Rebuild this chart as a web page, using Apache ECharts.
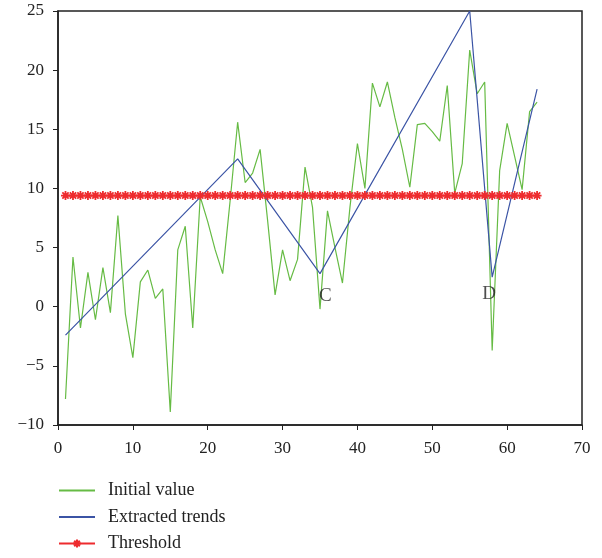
<!DOCTYPE html>
<html>
<head>
<meta charset="utf-8">
<script src="https://cdn.jsdelivr.net/npm/echarts@6/dist/echarts.min.js"></script>
<style>
  html, body { margin: 0; padding: 0; background: #fff; }
  #chart { width: 602px; height: 558px; }
</style>
</head>
<body>
<div id="chart"></div>
<script>
// green curve, one value per sample (x = 1..64)
const initialValue = [
  -7.8, 4.2, -1.8, 2.9, -1.1, 3.3, -0.5, 7.7, -0.6, -4.3,
  2.1, 3.1, 0.7, 1.5, -8.9, 4.8, 6.8, -1.8, 9.3, 7.2,
  4.8, 2.8, 9.0, 15.6, 10.5, 11.3, 13.3, 7.3, 1.0, 4.8,
  2.2, 4.0, 11.8, 8.4, -0.2, 8.1, 5.0, 2.0, 8.4, 13.8,
  10.0, 18.9, 16.9, 19.0, 16.0, 13.3, 10.1, 15.4, 15.5, 14.8,
  14.0, 18.7, 9.6, 12.1, 21.7, 18.0, 19.0, -3.7, 11.5, 15.5,
  12.7, 9.9, 16.5, 17.3
];
// blue piecewise trend
const trendX = [1, 24, 35, 55, 58, 64];
const trendY = [-2.4, 12.5, 2.8, 25, 2.5, 18.4];
// red threshold
const thresholdValue = 9.4;
// point labels
const labelNames = ['C', 'D'];
const labelX = [35.7, 57.6];
const labelY = [0.9, 1.1];

const xTicks = [0, 10, 20, 30, 40, 50, 60, 70];
const yTicks = [-10, -5, 0, 5, 10, 15, 20, 25];

const font = 'Liberation Serif';
const sampleX = initialValue.map((v, i) => i + 1);

const chart = echarts.init(document.getElementById('chart'));

const option = {
  animation: false,
  grid: {
    left: 58, right: 20, top: 11, bottom: 133,
    show: true, borderColor: '#222', borderWidth: 1.5
  },
  xAxis: {
    type: 'value',
    min: xTicks[0], max: xTicks[xTicks.length - 1], interval: 10,
    axisLine: { show: true, onZero: false, lineStyle: { color: '#222', width: 1.5 } },
    axisTick: { show: true, length: 5, lineStyle: { color: '#222' } },
    splitLine: { show: false },
    axisLabel: { color: '#222', fontFamily: font, fontSize: 17, margin: 15 }
  },
  yAxis: {
    type: 'value',
    min: yTicks[0], max: yTicks[yTicks.length - 1], interval: 5,
    axisLine: { show: true, onZero: false, lineStyle: { color: '#222', width: 1.5 } },
    axisTick: { show: true, length: 5, lineStyle: { color: '#222' } },
    splitLine: { show: false },
    axisLabel: {
      color: '#222', fontFamily: font, fontSize: 17, margin: 14,
      formatter: v => String(v).replace('-', '\u2212')
    }
  },
  legend: {
    orient: 'vertical',
    left: 53, top: 476, height: 82,
    itemWidth: 36, itemHeight: 10, itemGap: 7.5,
    textStyle: { color: '#222', fontFamily: font, fontSize: 18, lineHeight: 19, padding: [0, 0, 0, 8] },
    data: [
      { name: 'Initial value', itemStyle: { opacity: 0 } },
      { name: 'Extracted trends', itemStyle: { opacity: 0 } },
      { name: 'Threshold' }
    ]
  },
  series: [
    {
      name: 'Initial value',
      type: 'line',
      symbol: 'none',
      lineStyle: { color: '#66bb44', width: 1.2 },
      itemStyle: { color: '#66bb44' },
      data: initialValue.map((v, i) => [sampleX[i], v]),
      z: 2
    },
    {
      name: 'Extracted trends',
      type: 'line',
      symbol: 'none',
      lineStyle: { color: '#3b54a5', width: 1.2 },
      itemStyle: { color: '#3b54a5' },
      data: trendX.map((x, i) => [x, trendY[i]]),
      z: 3
    },
    {
      name: 'Threshold',
      type: 'line',
      symbol: 'path://M0,-5L0,5M-5,0L5,0M-3.5,-3.5L3.5,3.5M-3.5,3.5L3.5,-3.5',
      symbolSize: 9,
      showSymbol: true,
      lineStyle: { color: '#ee2b2e', width: 2 },
      itemStyle: { color: '#ee2b2e', borderColor: '#ee2b2e', borderWidth: 1.8 },
      data: sampleX.map(x => [x, thresholdValue]),
      z: 4
    },
    {
      type: 'scatter',
      symbolSize: 0,
      silent: true,
      label: {
        show: true, position: 'inside',
        formatter: p => p.name,
        color: '#222', fontFamily: font, fontSize: 19
      },
      data: labelNames.map((n, i) => ({ name: n, value: [labelX[i], labelY[i]] })),
      z: 5
    }
  ]
};

chart.setOption(option);
</script>
</body>
</html>
